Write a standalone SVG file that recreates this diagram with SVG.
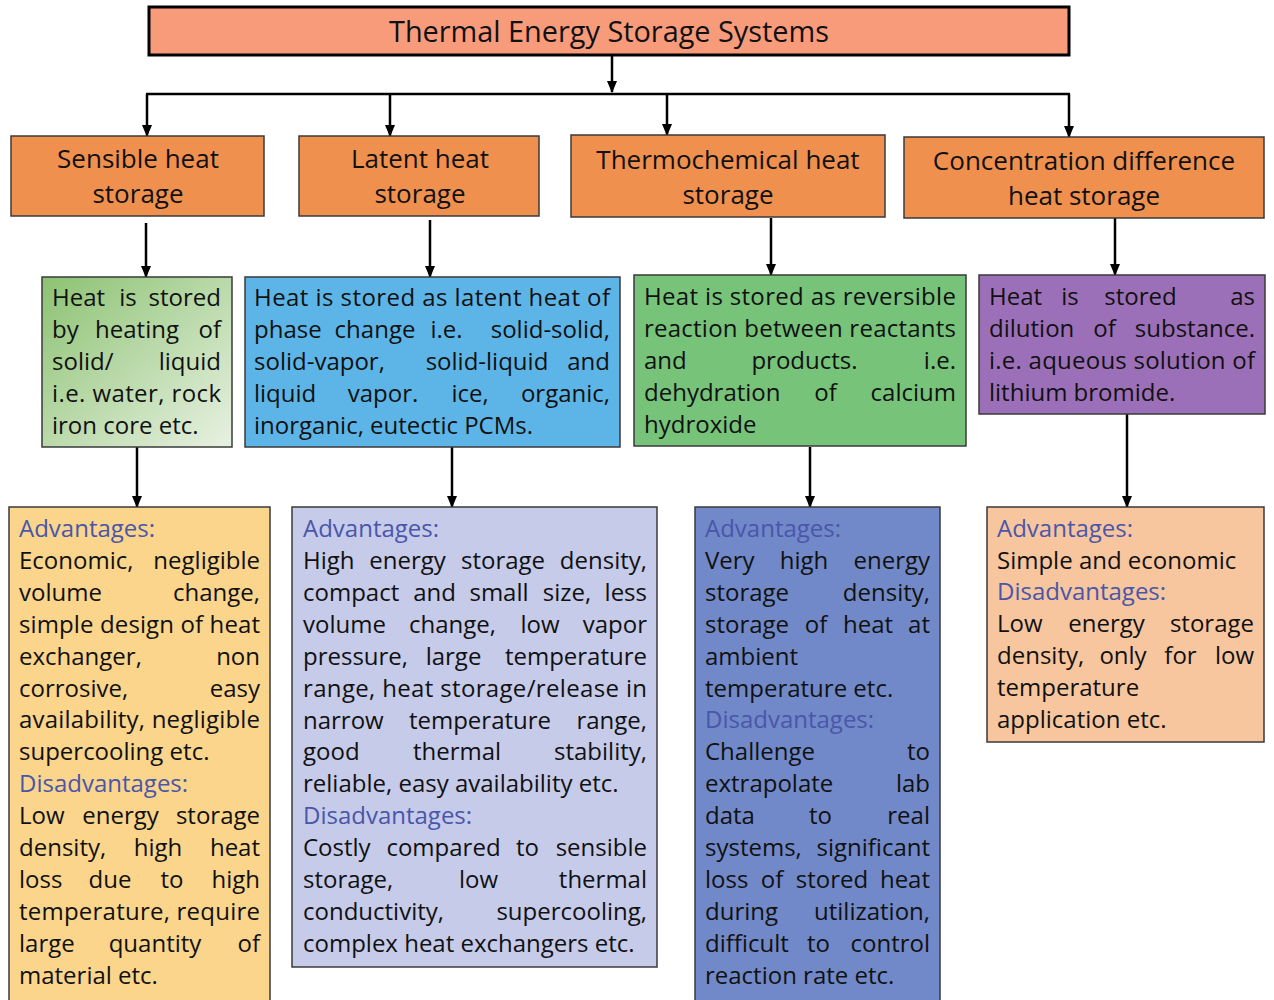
<svg xmlns="http://www.w3.org/2000/svg" width="1274" height="1000" viewBox="0 0 1274 1000">
<style>
.t{font-family:"Open Sans","Liberation Sans",sans-serif;font-size:24px;fill:#111}
.h{fill:#4A56AA}
.e{text-anchor:end}
.m{text-anchor:middle}
.l2{font-family:"Open Sans","Liberation Sans",sans-serif;font-size:26px;fill:#111;text-anchor:middle}
.bx{stroke:#3a3a3a;stroke-width:1.5}
.c{stroke:#000;stroke-width:2.5;fill:none}
</style>
<defs>
<marker id="ar" markerUnits="userSpaceOnUse" markerWidth="12" markerHeight="12" viewBox="0 0 12 12" refX="11" refY="6" orient="auto">
<path d="M0,1 L12,6 L0,11 Z" fill="#000"/>
</marker>
<linearGradient id="gg" x1="0" y1="0" x2="1" y2="1">
<stop offset="0" stop-color="#8CC272"/>
<stop offset="1" stop-color="#E8F1E2"/>
</linearGradient>
</defs>
<rect width="1274" height="1000" fill="#fff"/>

<g id="connectors">
<path class="c" d="M612 55 V92" marker-end="url(#ar)"/>
<path class="c" d="M146 94 H1070"/>
<path class="c" d="M147 94 V136" marker-end="url(#ar)"/>
<path class="c" d="M390 94 V136" marker-end="url(#ar)"/>
<path class="c" d="M667 94 V135" marker-end="url(#ar)"/>
<path class="c" d="M1069 94 V137" marker-end="url(#ar)"/>
<path class="c" d="M146 223 V277" marker-end="url(#ar)"/>
<path class="c" d="M430 220 V277" marker-end="url(#ar)"/>
<path class="c" d="M771 218 V275" marker-end="url(#ar)"/>
<path class="c" d="M1115 218 V275" marker-end="url(#ar)"/>
<path class="c" d="M137 447 V507" marker-end="url(#ar)"/>
<path class="c" d="M452 447 V507" marker-end="url(#ar)"/>
<path class="c" d="M810 447 V507" marker-end="url(#ar)"/>
<path class="c" d="M1127 414 V507" marker-end="url(#ar)"/>
</g>

<g id="title">
<rect x="149" y="7" width="920" height="48" fill="#F89B7B" stroke="#000" stroke-width="3"/>
<text x="609" y="42" font-family="'Open Sans','Liberation Sans',sans-serif" font-size="29" fill="#111" text-anchor="middle" textLength="440" lengthAdjust="spacingAndGlyphs">Thermal Energy Storage Systems</text>
</g>

<g id="sensible">
<rect class="bx" x="11" y="136" width="253" height="80" fill="#F0904F"/>
<text class="l2" x="138" y="168">Sensible heat</text>
<text class="l2" x="138" y="203">storage</text>
</g>
<g id="latent">
<rect class="bx" x="299" y="136" width="240" height="80" fill="#F0904F"/>
<text class="l2" x="420" y="168">Latent heat</text>
<text class="l2" x="420" y="203">storage</text>
</g>
<g id="thermochemical">
<rect class="bx" x="571" y="135" width="314" height="82" fill="#F0904F"/>
<text class="l2" x="728" y="169">Thermochemical heat</text>
<text class="l2" x="728" y="204">storage</text>
</g>
<g id="concentration">
<rect class="bx" x="904" y="137" width="360" height="81" fill="#F0904F"/>
<text class="l2" x="1084" y="170">Concentration difference</text>
<text class="l2" x="1084" y="205">heat storage</text>
</g>

<g id="sensible-desc">
<rect class="bx" x="42" y="277" width="190" height="170" fill="url(#gg)"/>
<text class="t" x="52" y="306">Heat</text><text class="t m" x="128" y="306">is</text><text class="t e" x="221" y="306">stored</text>
<text class="t" x="52" y="338">by</text><text class="t m" x="137" y="338">heating</text><text class="t e" x="221" y="338">of</text>
<text class="t" x="52" y="370">solid/</text><text class="t e" x="221" y="370">liquid</text>
<text class="t" x="52" y="402" textLength="169" lengthAdjust="spacing">i.e. water, rock</text>
<text class="t" x="52" y="434">iron core etc.</text>
</g>

<g id="latent-desc">
<rect class="bx" x="245" y="277" width="375" height="170" fill="#5DB5E7"/>
<text class="t" x="254" y="306" textLength="356" lengthAdjust="spacing">Heat is stored as latent heat of</text>
<text class="t" x="254" y="338">phase</text><text class="t m" x="375" y="338">change</text><text class="t m" x="446.5" y="338">i.e.</text><text class="t e" x="610" y="338">solid-solid,</text>
<text class="t" x="254" y="370">solid-vapor,</text><text class="t m" x="487" y="370">solid-liquid</text><text class="t e" x="610" y="370">and</text>
<text class="t" x="254" y="402">liquid</text><text class="t m" x="383" y="402">vapor.</text><text class="t m" x="470" y="402">ice,</text><text class="t e" x="610" y="402">organic,</text>
<text class="t" x="254" y="434">inorganic, eutectic PCMs.</text>
</g>

<g id="thermochemical-desc">
<rect class="bx" x="634" y="275" width="332" height="171" fill="#77C37A"/>
<text class="t" x="644" y="305" textLength="312" lengthAdjust="spacing">Heat is stored as reversible</text>
<text class="t" x="644" y="337" textLength="312" lengthAdjust="spacing">reaction between reactants</text>
<text class="t" x="644" y="369">and</text><text class="t m" x="804.5" y="369">products.</text><text class="t e" x="956" y="369">i.e.</text>
<text class="t" x="644" y="401">dehydration</text><text class="t m" x="825.5" y="401">of</text><text class="t e" x="956" y="401">calcium</text>
<text class="t" x="644" y="433">hydroxide</text>
</g>

<g id="concentration-desc">
<rect class="bx" x="979" y="275" width="286" height="139" fill="#9C70B8"/>
<text class="t" x="989" y="305">Heat</text><text class="t m" x="1070" y="305">is</text><text class="t m" x="1140.5" y="305">stored</text><text class="t e" x="1255" y="305">as</text>
<text class="t" x="989" y="337">dilution</text><text class="t m" x="1104.5" y="337">of</text><text class="t e" x="1255" y="337">substance.</text>
<text class="t" x="989" y="369" textLength="266" lengthAdjust="spacing">i.e. aqueous solution of</text>
<text class="t" x="989" y="401">lithium bromide.</text>
</g>

<g id="sensible-pros">
<rect class="bx" x="9" y="507" width="261" height="500" fill="#FAD58B"/>
<text class="t h" x="19" y="537">Advantages:</text>
<text class="t" x="19" y="569">Economic,</text><text class="t e" x="260" y="569">negligible</text>
<text class="t" x="19" y="601">volume</text><text class="t e" x="260" y="601">change,</text>
<text class="t" x="19" y="633" textLength="241" lengthAdjust="spacing">simple design of heat</text>
<text class="t" x="19" y="665">exchanger,</text><text class="t e" x="260" y="665">non</text>
<text class="t" x="19" y="697">corrosive,</text><text class="t e" x="260" y="697">easy</text>
<text class="t" x="19" y="728" textLength="241" lengthAdjust="spacing">availability, negligible</text>
<text class="t" x="19" y="760">supercooling etc.</text>
<text class="t h" x="19" y="792">Disadvantages:</text>
<text class="t" x="19" y="824">Low</text><text class="t m" x="120.5" y="824">energy</text><text class="t e" x="260" y="824">storage</text>
<text class="t" x="19" y="856">density,</text><text class="t m" x="158" y="856">high</text><text class="t e" x="260" y="856">heat</text>
<text class="t" x="19" y="888">loss</text><text class="t m" x="110" y="888">due</text><text class="t m" x="172" y="888">to</text><text class="t e" x="260" y="888">high</text>
<text class="t" x="19" y="920" textLength="241" lengthAdjust="spacing">temperature, require</text>
<text class="t" x="19" y="952">large</text><text class="t m" x="155" y="952">quantity</text><text class="t e" x="260" y="952">of</text>
<text class="t" x="19" y="984">material etc.</text>
</g>

<g id="latent-pros">
<rect class="bx" x="292" y="507" width="365" height="460" fill="#C6CBE9"/>
<text class="t h" x="303" y="537">Advantages:</text>
<text class="t" x="303" y="569">High</text><text class="t m" x="407.5" y="569">energy</text><text class="t m" x="503" y="569">storage</text><text class="t e" x="647" y="569">density,</text>
<text class="t" x="303" y="601">compact</text><text class="t m" x="434.5" y="601">and</text><text class="t m" x="499" y="601">small</text><text class="t m" x="567" y="601">size,</text><text class="t e" x="647" y="601">less</text>
<text class="t" x="303" y="633">volume</text><text class="t m" x="452.5" y="633">change,</text><text class="t m" x="540" y="633">low</text><text class="t e" x="647" y="633">vapor</text>
<text class="t" x="303" y="665">pressure,</text><text class="t m" x="453.5" y="665">large</text><text class="t e" x="647" y="665">temperature</text>
<text class="t" x="303" y="697" textLength="344" lengthAdjust="spacing">range, heat storage/release in</text>
<text class="t" x="303" y="729">narrow</text><text class="t m" x="480" y="729">temperature</text><text class="t e" x="647" y="729">range,</text>
<text class="t" x="303" y="760">good</text><text class="t m" x="457" y="760">thermal</text><text class="t e" x="647" y="760">stability,</text>
<text class="t" x="303" y="792">reliable, easy availability etc.</text>
<text class="t h" x="303" y="824">Disadvantages:</text>
<text class="t" x="303" y="856">Costly</text><text class="t m" x="443.5" y="856">compared</text><text class="t m" x="527.5" y="856">to</text><text class="t e" x="647" y="856">sensible</text>
<text class="t" x="303" y="888">storage,</text><text class="t m" x="478.5" y="888">low</text><text class="t e" x="647" y="888">thermal</text>
<text class="t" x="303" y="920">conductivity,</text><text class="t e" x="647" y="920">supercooling,</text>
<text class="t" x="303" y="952">complex heat exchangers etc.</text>
</g>

<g id="thermochemical-pros">
<rect class="bx" x="695" y="507" width="245" height="500" fill="#7189C8"/>
<text class="t h" x="705" y="537">Advantages:</text>
<text class="t" x="705" y="569">Very</text><text class="t m" x="804" y="569">high</text><text class="t e" x="930" y="569">energy</text>
<text class="t" x="705" y="601">storage</text><text class="t e" x="930" y="601">density,</text>
<text class="t" x="705" y="633">storage</text><text class="t m" x="816" y="633">of</text><text class="t m" x="868" y="633">heat</text><text class="t e" x="930" y="633">at</text>
<text class="t" x="705" y="665">ambient</text>
<text class="t" x="705" y="697">temperature etc.</text>
<text class="t h" x="705" y="728">Disadvantages:</text>
<text class="t" x="705" y="760">Challenge</text><text class="t e" x="930" y="760">to</text>
<text class="t" x="705" y="792">extrapolate</text><text class="t e" x="930" y="792">lab</text>
<text class="t" x="705" y="824">data</text><text class="t m" x="820.5" y="824">to</text><text class="t e" x="930" y="824">real</text>
<text class="t" x="705" y="856">systems,</text><text class="t e" x="930" y="856">significant</text>
<text class="t" x="705" y="888">loss</text><text class="t m" x="772" y="888">of</text><text class="t m" x="832" y="888">stored</text><text class="t e" x="930" y="888">heat</text>
<text class="t" x="705" y="920">during</text><text class="t e" x="930" y="920">utilization,</text>
<text class="t" x="705" y="952">difficult</text><text class="t m" x="818.5" y="952">to</text><text class="t e" x="930" y="952">control</text>
<text class="t" x="705" y="984">reaction rate etc.</text>
</g>

<g id="concentration-pros">
<rect class="bx" x="987" y="507" width="277" height="235" fill="#F7C69E"/>
<text class="t h" x="997" y="537">Advantages:</text>
<text class="t" x="997" y="569">Simple and economic</text>
<text class="t h" x="997" y="600">Disadvantages:</text>
<text class="t" x="997" y="632">Low</text><text class="t m" x="1106.5" y="632">energy</text><text class="t e" x="1254" y="632">storage</text>
<text class="t" x="997" y="664">density,</text><text class="t m" x="1123" y="664">only</text><text class="t m" x="1180.5" y="664">for</text><text class="t e" x="1254" y="664">low</text>
<text class="t" x="997" y="696">temperature</text>
<text class="t" x="997" y="728">application etc.</text>
</g>
</svg>
